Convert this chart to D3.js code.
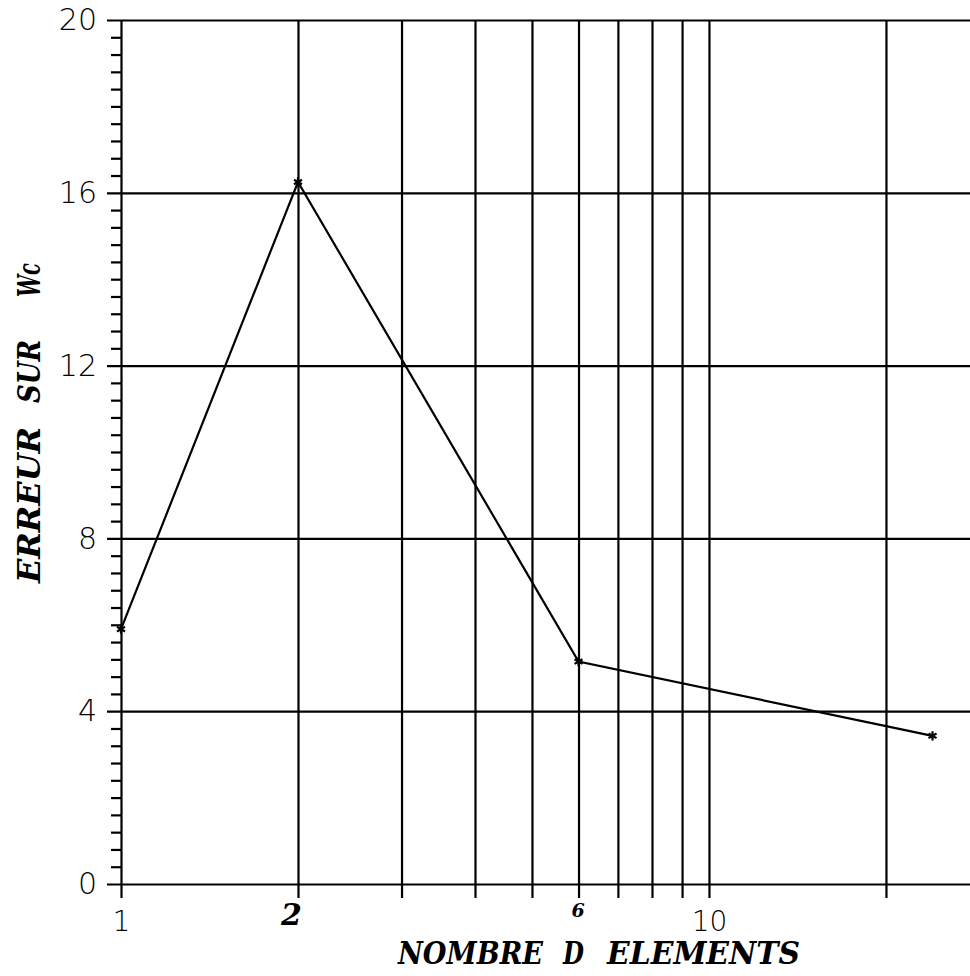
<!DOCTYPE html>
<html>
<head>
<meta charset="utf-8">
<script src="https://cdn.jsdelivr.net/npm/d3@7"></script>
<style>
  html, body { margin: 0; padding: 0; background: #fff; }
  svg { display: block; }
</style>
</head>
<body>
<svg id="chart" width="970" height="976"></svg>
<script>
// Error on Wc versus number of elements (log x axis)
const elements = [1, 2, 6, 24];
const errors = [5.9, 16.25, 5.15, 3.43];

// Grid lines drawn on the log axis, and the labels written under it
const xGridValues = [1, 2, 3, 4, 5, 6, 7, 8, 9, 10, 20];
const xLabelValues = [1, 2, 6, 10];
const xLabelTexts = ["1", "2", "6", "10"];
const xLabelStyles = ["plain", "hand", "handSmall", "plain"];

const yTickValues = [0, 4, 8, 12, 16, 20];
const yMinorStep = 0.4;

// titles are set word by word, with wide gaps between words
const xTitleWords = ["NOMBRE", "D", "ELEMENTS"];
const yTitleWords = ["ERREUR", "SUR", "Wc"];

const svg = d3.select("#chart");
const W = 970;

const x = d3.scaleLog().domain([1, 30]).range([121, 989.5]);
const y = d3.scaleLinear().domain([0, 20]).range([884, 20]);

const ink = "#000";
const plotH = y(0) - y(20);

function styleAxis(g) {
  g.select(".domain").remove();
  g.selectAll(".tick line").attr("stroke", ink).attr("stroke-width", 2.2);
}

// horizontal grid + major y ticks, labels on the left
svg.append("g")
  .attr("transform", "translate(107,0)")
  .call(d3.axisLeft(y).tickValues(yTickValues).tickSizeInner(-(W - 107)).tickSizeOuter(0).tickPadding(10))
  .call(styleAxis)
  .call(g => g.selectAll(".tick text")
    .attr("fill", ink)
    .attr("font-family", "'DejaVu Sans', sans-serif")
    .attr("font-weight", 200)
    .attr("font-size", 30));

// minor y ticks
const yMinor = d3.range(0, 20 + 1e-9, yMinorStep).map(v => +v.toFixed(2)).filter(v => !yTickValues.includes(v));
svg.append("g")
  .attr("transform", "translate(121,0)")
  .call(d3.axisLeft(y).tickValues(yMinor).tickSize(10).tickFormat(""))
  .call(styleAxis);

// vertical grid lines on the log scale
svg.append("g")
  .attr("transform", `translate(0,${y(0)})`)
  .call(d3.axisBottom(x).tickValues(xGridValues).tickSizeInner(-plotH).tickSizeOuter(0).tickFormat(""))
  .call(styleAxis);

// x ticks below the axis with their labels
const labelOf = new Map(xLabelValues.map((v, i) => [v, i]));
svg.append("g")
  .attr("transform", `translate(0,${y(0)})`)
  .call(d3.axisBottom(x).tickValues(xGridValues).tickSizeInner(14).tickSizeOuter(0).tickPadding(13)
    .tickFormat(d => labelOf.has(d) ? xLabelTexts[labelOf.get(d)] : ""))
  .call(styleAxis)
  .call(g => g.selectAll(".tick text").each(function(d) {
    const t = d3.select(this).attr("fill", ink);
    const style = labelOf.has(d) ? xLabelStyles[labelOf.get(d)] : "plain";
    if (style === "plain") {
      t.attr("font-family", "'DejaVu Sans', sans-serif").attr("font-weight", 200).attr("font-size", 28);
    } else if (style === "hand") {
      t.attr("font-family", "'DejaVu Serif', serif").attr("font-weight", "bold")
        .attr("font-style", "italic").attr("font-size", 30)
        .attr("x", -7).attr("y", 20);
    } else {
      t.attr("font-family", "'DejaVu Serif', serif").attr("font-weight", "bold")
        .attr("font-style", "italic").attr("font-size", 19)
        .attr("x", -1).attr("y", 20);
    }
  }));

// data line
const pts = elements.map((e, i) => [e, errors[i]]);
svg.append("path")
  .datum(pts)
  .attr("fill", "none")
  .attr("stroke", ink)
  .attr("stroke-width", 2.2)
  .attr("d", d3.line().x(d => x(d[0])).y(d => y(d[1])));

// star markers
svg.append("g").selectAll("path")
  .data(pts)
  .join("path")
  .attr("transform", d => `translate(${x(d[0])},${y(d[1])})`)
  .attr("d", d3.symbol(d3.symbolAsterisk, 60))
  .attr("fill", "none")
  .attr("stroke", ink)
  .attr("stroke-width", 2.2);

// axis titles
const titleFont = g => g
  .attr("font-family", "'DejaVu Serif', serif")
  .attr("font-weight", "bold").attr("font-style", "italic")
  .attr("fill", ink);

const xWordStart = [398, 563, 607];
const xWordLen = [145, 21, 193];
svg.append("text")
  .attr("y", 964)
  .attr("font-size", 32)
  .call(titleFont)
  .selectAll("tspan")
  .data(xTitleWords)
  .join("tspan")
  .attr("x", (d, i) => xWordStart[i])
  .attr("textLength", (d, i) => xWordLen[i])
  .attr("lengthAdjust", "spacingAndGlyphs")
  .text(d => d);

const yWordStart = [583, 403, 297];
const yWordLen = [156, 63, 34];
svg.append("text")
  .attr("transform", "translate(40,0) rotate(-90)")
  .attr("font-size", 31)
  .call(titleFont)
  .selectAll("tspan")
  .data(yTitleWords)
  .join("tspan")
  .attr("x", (d, i) => -yWordStart[i])
  .attr("textLength", (d, i) => yWordLen[i])
  .attr("lengthAdjust", "spacingAndGlyphs")
  .text(d => d);
</script>
</body>
</html>
